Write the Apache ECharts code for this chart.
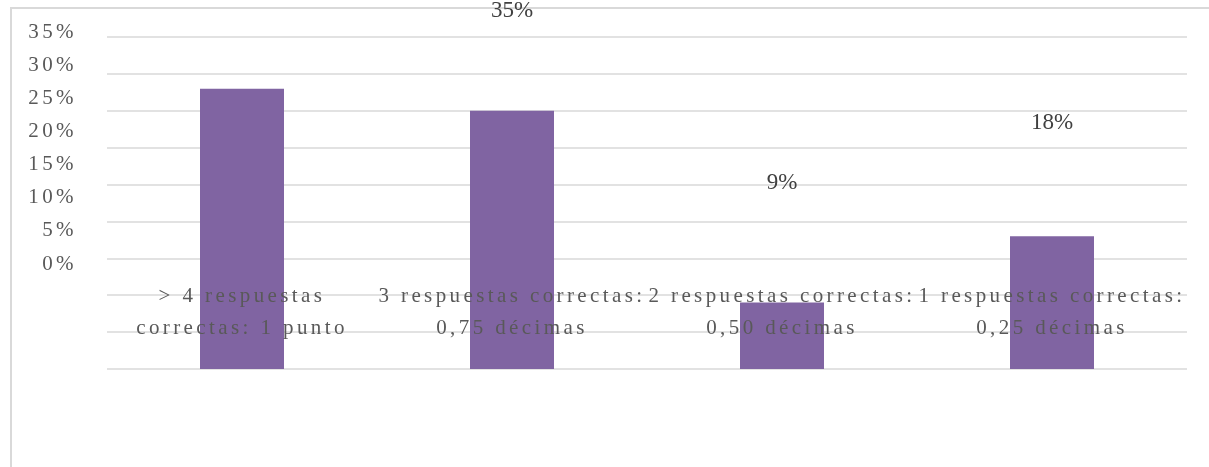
<!DOCTYPE html>
<html>
<head>
<meta charset="utf-8">
<script src="https://cdn.jsdelivr.net/npm/echarts@6/dist/echarts.min.js"></script>
<style>
  html, body { margin: 0; padding: 0; background: #fff; }
  .frame {
    position: absolute; left: 10px; top: 7px; right: -4px; bottom: -4px;
    border-left: 2px solid #d9d9d9; border-top: 2px solid #d9d9d9;
  }
  #chart { position: absolute; left: 0; top: 0; width: 1209px; height: 467px; }
</style>
</head>
<body>
<div class="frame"></div>
<div id="chart"></div>
<script>
// categorías y valores (%)
const categories = [
  '> 4 respuestas\ncorrectas: 1 punto',
  '3 respuestas correctas:\n0,75 décimas',
  '2 respuestas correctas:\n0,50 décimas',
  '1 respuestas correctas:\n0,25 décimas'
]
const values = [38, 35, 9, 18]

const serif = 'Liberation Serif'
const axisColor = '#595959'

// espaciado de letras de los textos de los ejes, como en el original
const origFillText = CanvasRenderingContext2D.prototype.fillText
CanvasRenderingContext2D.prototype.fillText = function (...args) {
  this.letterSpacing = this.fillStyle === axisColor ? '3.4px' : '0px'
  return origFillText.apply(this, args)
}

const chart = echarts.init(document.getElementById('chart'))

const option = {
  animation: false,
  grid: [
    // rejilla de las barras (0% - 45%)
    { left: 107, right: 22, top: 37, bottom: 98 },
    // escala de las etiquetas del eje (0% - 35%)
    { left: 107, right: 22, top: 32, bottom: 203 }
  ],
  xAxis: [
    {
      type: 'category',
      gridIndex: 0,
      data: categories,
      z: 5,
      axisLine: { show: false },
      axisTick: { show: false },
      axisLabel: {
        interval: 0,
        margin: -89,
        color: axisColor,
        fontFamily: serif,
        fontSize: 21,
        lineHeight: 32
      }
    },
    {
      type: 'category',
      gridIndex: 1,
      data: categories,
      show: false
    }
  ],
  yAxis: [
    {
      type: 'value',
      gridIndex: 0,
      min: 0,
      max: 45,
      interval: 5,
      axisLabel: { show: false },
      axisLine: { show: false },
      axisTick: { show: false },
      splitLine: { lineStyle: { color: '#d9d9d9', width: 1.5 } }
    },
    {
      type: 'value',
      gridIndex: 1,
      min: 0,
      max: 35,
      interval: 5,
      axisLine: { show: false },
      axisTick: { show: false },
      splitLine: { show: false },
      axisLabel: {
        formatter: '{value}%',
        margin: 30,
        color: axisColor,
        fontFamily: serif,
        fontSize: 21
      }
    }
  ],
  series: [
    {
      type: 'bar',
      xAxisIndex: 0,
      yAxisIndex: 0,
      data: values,
      barWidth: 84,
      itemStyle: { color: '#8064A2' }
    },
    {
      // etiquetas de datos, desplazadas como en el original
      type: 'bar',
      xAxisIndex: 1,
      yAxisIndex: 1,
      data: values,
      clip: false,
      barWidth: 84,
      itemStyle: { color: 'transparent' },
      silent: true,
      label: {
        show: true,
        position: 'top',
        offset: [0, -5],
        formatter: '{c}%',
        color: '#404040',
        fontFamily: serif,
        fontSize: 23
      }
    }
  ]
}

chart.setOption(option)
</script>
</body>
</html>
